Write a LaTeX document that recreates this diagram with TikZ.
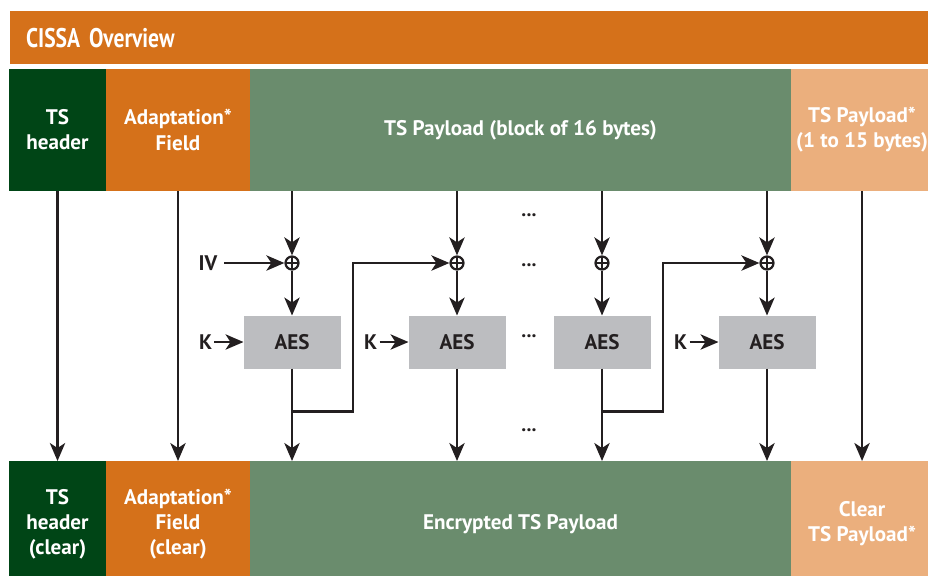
\documentclass[tikz,border=0pt]{standalone}
\usepackage{fontspec}
\setmainfont{PT Sans}
\newfontfamily\condfont[FakeStretch=0.8]{PT Sans}
\usepackage{xcolor}
\usetikzlibrary{arrows.meta}
\usetikzlibrary{calc}
\usetikzlibrary{positioning}

\definecolor{cissaorange}{RGB}{213,113,26}
\definecolor{tsgreen}{RGB}{0,69,22}
\definecolor{paygreen}{RGB}{106,140,109}
\definecolor{clearorange}{RGB}{235,175,125}
\definecolor{aesgray}{RGB}{188,189,192}
\definecolor{inkblack}{RGB}{35,31,32}

\begin{document}
\begin{tikzpicture}[x=0.03cm,y=-0.03cm,node distance=0pt,line width=1.9pt,draw=inkblack,
  >={Stealth[length=0.54cm,width=0.46cm,inset=0.15cm]}]
 				 \tikzstyle{field}=[inner sep=0pt, outer sep=0pt, text=white, align=center, font=\bfseries\fontsize{18}{21.5}\selectfont]
 				 \tikzstyle{top}=[field, minimum height=3.66cm]
 				 \tikzstyle{bot}=[field, minimum height=3.78cm]
 				 \tikzstyle{aes}=[fill=aesgray, minimum width=2.91cm, minimum height=1.59cm, inner sep=0pt, outer sep=0pt, text=inkblack, font=\bfseries\fontsize{18}{21.5}\selectfont]
 				 \tikzstyle{xor}=[circle, draw, minimum size=0.39cm, inner sep=0pt,
 				   path picture={\draw (path picture bounding box.north) -- (path picture bounding box.south)
 				     (path picture bounding box.west) -- (path picture bounding box.east);}]
 				 \tikzstyle{lbl}=[inner sep=1pt, text=inkblack, font=\bfseries\fontsize{18}{21.5}\selectfont]
 				 \tikzstyle{more}=[inner sep=0pt, text=inkblack, font=\bfseries\fontsize{17}{17}\selectfont]
						\useasboundingbox (0,0) rectangle (928,575);

						\node[fill=cissaorange, anchor=north west, minimum width=27.8cm, minimum height=1.59cm,
						  text width=26.84cm, inner xsep=0.48cm, inner ysep=0pt, text=white,
						  font=\condfont\bfseries\fontsize{23}{23}\selectfont] (title) at (9,10) {CISSA Overview};

						% input packet
						\node[top, fill=tsgreen, minimum width=2.91cm, anchor=north west] (hdr) at (9,69) {TS\\header};
						\node[top, fill=cissaorange, minimum width=4.32cm] (adp) [right=of hdr] {Adaptation*\\Field};
						\node[top, fill=paygreen, minimum width=16.23cm] (pay) [right=of adp] {TS Payload (block of 16 bytes)};
						\node[top, fill=clearorange, minimum width=4.26cm] (rest) [right=of pay] {TS Payload*\\(1 to 15 bytes)};

						% output packet
						\node[bot, fill=tsgreen, minimum width=2.91cm, anchor=north west] (hdrc) at (9,461) {TS\\header\\(clear)};
						\node[bot, fill=cissaorange, minimum width=4.32cm] (adpc) [right=of hdrc] {Adaptation*\\Field\\(clear)};
						\node[bot, fill=paygreen, minimum width=16.23cm] (enc) [right=of adpc] {Encrypted TS Payload};
						\node[bot, fill=clearorange, minimum width=4.26cm] (clr) [right=of enc] {Clear\\TS Payload*};

						% CBC chain
						\node[aes] (aes1) at (292,342) {AES};
						\node[aes] (aes2) at (457,342) {AES};
						\node[aes] (aes3) at (602,342) {AES};
						\node[aes] (aes4) at (767,342) {AES};
						\node[xor] (x1) at (292,263) {};
						\node[xor] (x2) at (457,263) {};
						\node[xor] (x3) at (602,263) {};
						\node[xor] (x4) at (767,263) {};

						\node[lbl] (iv) at (208,263) {IV};
						\node[lbl] (k1) [left=0.87cm of aes1] {K};
						\node[lbl] (k2) [left=0.87cm of aes2] {K};
						\node[lbl] (k4) [left=0.87cm of aes4] {K};

						\node[more] (d1) at (529,215) {...};
						\node[more] (d2) at (529,265) {...};
						\node[more] (d3) at (529,336) {...};
						\node[more] (d4) at (529,430) {...};

						\path (aes1.south) ++(0,43) coordinate (t1);
						\path (aes3.south) ++(0,43) coordinate (t3);

						\path[->]
							(hdr) edge (hdrc)
							(adp) edge (adpc)
							(rest.south -| clr.north) edge (clr)
							(pay.south -| x1) edge (x1)
							(pay.south -| x2) edge (x2)
							(pay.south -| x3) edge (x3)
							(pay.south -| x4) edge (x4)
							(iv) edge[shorten <=4pt] (x1)
							(x1) edge (aes1)
							(x2) edge (aes2)
							(x3) edge (aes3)
							(x4) edge (aes4)
							(k1) edge (aes1)
							(k2) edge (aes2)
							(k4) edge (aes4)
							(aes1) edge (aes1 |- enc.north)
							(aes2) edge (aes2 |- enc.north)
							(aes3) edge (aes3 |- enc.north)
							(aes4) edge (aes4 |- enc.north);

						\draw[->] (t1) -- ++(61,0) |- (x2);
						\draw[->] (t3) -- ++(61,0) |- (x4);

 				\end{tikzpicture}
\end{document}
